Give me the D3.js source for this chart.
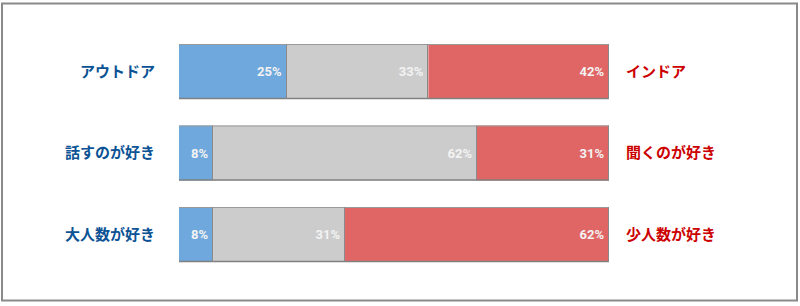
<!DOCTYPE html>
<html>
<head>
<meta charset="utf-8">
<script src="https://cdn.jsdelivr.net/npm/d3@7"></script>
<style>
  body { margin: 0; background: #fff; }
  svg { display: block; }
</style>
</head>
<body>
<div id="chart"></div>
<script>
// data
const leftLabels = ["アウトドア", "話すのが好き", "大人数が好き"];
const rightLabels = ["インドア", "聞くのが好き", "少人数が好き"];
const leftValues = [25, 8, 8];
const midValues = [33, 62, 31];
const rightValues = [42, 31, 62];

const width = 800;
const height = 306;

const svg = d3
  .select("#chart")
  .append("svg")
  .attr("width", width)
  .attr("height", height);

// outer frame
svg
  .append("rect")
  .attr("x", 2)
  .attr("y", 3.5)
  .attr("width", 795)
  .attr("height", 297)
  .attr("fill", "#fff")
  .attr("stroke", "#8a8a8a")
  .attr("stroke-width", 2);

const rows = leftLabels.map((d, i) => ({
  left: d,
  right: rightLabels[i],
  values: [leftValues[i], midValues[i], rightValues[i]],
}));

const y = d3
  .scaleBand()
  .domain(d3.range(rows.length))
  .range([44, 262])
  .paddingInner(0.325)
  .paddingOuter(0);

const colors = ["#6fa8dc", "#cccccc", "#e06666"];
const barX0 = 179;
const barX1 = 609;

rows.forEach((row, i) => {
  const total = d3.sum(row.values);
  const x = d3.scaleLinear().domain([0, total]).range([barX0, barX1]);
  const g = svg.append("g");
  const top = y(i);
  const bh = y.bandwidth();

  let acc = 0;
  const segs = row.values.map((v) => {
    const s = { start: acc, end: acc + v, v: v };
    acc += v;
    return s;
  });

  g.selectAll("rect.seg")
    .data(segs)
    .enter()
    .append("rect")
    .attr("class", "seg")
    .attr("x", (d) => x(d.start))
    .attr("y", top)
    .attr("width", (d) => x(d.end) - x(d.start))
    .attr("height", bh)
    .attr("fill", (d, j) => colors[j]);

  // outline lines
  g.append("line")
    .attr("x1", barX0).attr("x2", barX1)
    .attr("y1", top + 0.5).attr("y2", top + 0.5)
    .attr("stroke", "#9a9a9a");
  g.append("line")
    .attr("x1", barX0).attr("x2", barX1)
    .attr("y1", top + bh - 0.5).attr("y2", top + bh - 0.5)
    .attr("stroke", "#808080").attr("stroke-width", 1.5);
  g.selectAll("line.div")
    .data(segs)
    .enter()
    .append("line")
    .attr("class", "div")
    .attr("x1", (d) => Math.round(x(d.end)) - 0.5)
    .attr("x2", (d) => Math.round(x(d.end)) - 0.5)
    .attr("y1", top)
    .attr("y2", top + bh)
    .attr("stroke", "#8a8a8a");

  // percentage labels
  g.selectAll("text.pct")
    .data(segs)
    .enter()
    .append("text")
    .attr("class", "pct")
    .attr("x", (d) => x(d.end) - 5)
    .attr("y", top + bh / 2)
    .attr("dy", "0.36em")
    .attr("text-anchor", "end")
    .attr("font-family", "Roboto, sans-serif")
    .attr("font-weight", "bold")
    .attr("font-size", 13)
    .attr("fill", "#f3f3f3")
    .text((d) => d.v + "%");

  // side labels
  g.append("text")
    .attr("x", 155)
    .attr("y", top + bh / 2)
    .attr("dy", "0.36em")
    .attr("text-anchor", "end")
    .attr("font-family", "'Noto Sans CJK JP', sans-serif")
    .attr("font-weight", "bold")
    .attr("font-size", 15)
    .attr("fill", "#0b5394")
    .text(row.left);

  g.append("text")
    .attr("x", 626)
    .attr("y", top + bh / 2)
    .attr("dy", "0.36em")
    .attr("text-anchor", "start")
    .attr("font-family", "'Noto Sans CJK JP', sans-serif")
    .attr("font-weight", "bold")
    .attr("font-size", 15)
    .attr("fill", "#cc0000")
    .text(row.right);
});
</script>
</body>
</html>
